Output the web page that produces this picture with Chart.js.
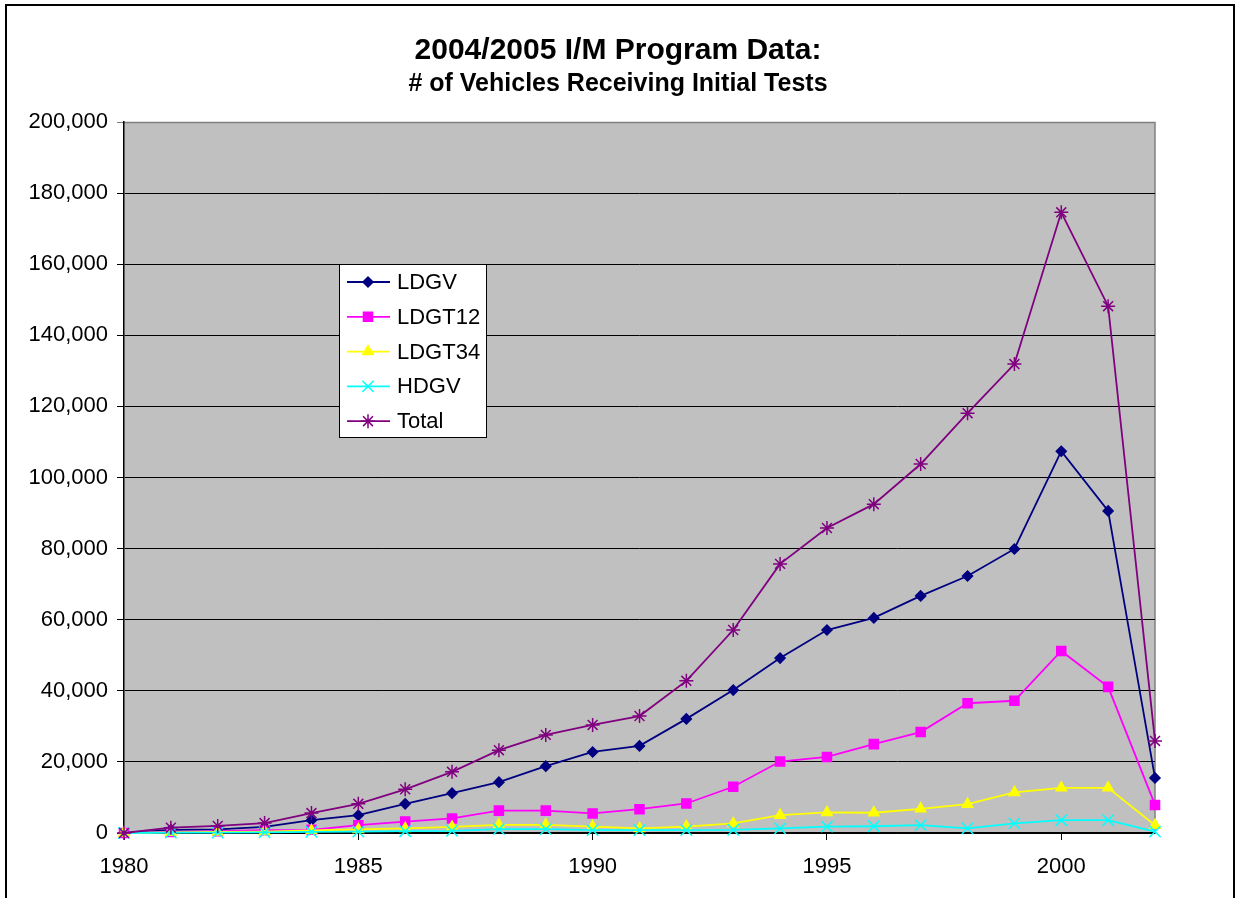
<!DOCTYPE html>
<html>
<head>
<meta charset="utf-8">
<script src="https://cdn.jsdelivr.net/npm/chart.js@4/dist/chart.umd.min.js"></script>
<style>
  body { margin: 0; background: #fff; }
  canvas { display: block; }
</style>
</head>
<body>
<canvas id="chart" width="1236" height="898"></canvas>
<script>
// model years on the x axis
const years = [1980, 1981, 1982, 1983, 1984, 1985, 1986, 1987, 1988, 1989, 1990, 1991,
               1992, 1993, 1994, 1995, 1996, 1997, 1998, 1999, 2000, 2001, 2002];

// vehicles receiving initial tests, per model year
const ldgv   = [0, 900, 1000, 1700, 3600, 5000, 8200, 11200, 14300, 18800, 22800, 24500,
                32100, 40200, 49200, 57100, 60500, 66700, 72300, 79900, 107400, 90600, 15500];
const ldgt12 = [0, 300, 500, 800, 900, 2200, 3200, 4100, 6300, 6300, 5500, 6700,
                8300, 13000, 20100, 21400, 25000, 28400, 36500, 37200, 51200, 41100, 7900];
const ldgt34 = [0, 200, 300, 400, 700, 1000, 1300, 1700, 2300, 2300, 1800, 1300,
                1800, 2700, 5000, 5800, 5700, 6800, 8100, 11400, 12700, 12700, 2200];
const hdgv   = [0, 100, 100, 200, 300, 400, 500, 600, 1100, 1100, 800, 800,
                800, 900, 1300, 1800, 1900, 2200, 1300, 2700, 3600, 3600, 400];
const total  = [0, 1500, 2000, 2800, 5600, 8200, 12300, 17200, 23300, 27600, 30400, 32900,
                42800, 57100, 75700, 85800, 92500, 103800, 118100, 131900, 174600, 148200, 25900];

const seriesNames = ['LDGV', 'LDGT12', 'LDGT34', 'HDGV', 'Total'];
const yTickStep = 20000;
const xTickStep = 5;

const FONT = "'Liberation Sans', Arial, sans-serif";
Chart.defaults.color = '#000';
Chart.defaults.font.family = FONT;

function pts(vals) {
    return years.map((x, i) => ({ x: x, y: vals[i] }));
}

function series(label, vals, color, style, radius, order) {
    return {
        label: label,
        data: pts(vals),
        borderColor: color,
        backgroundColor: color,
        borderWidth: 1.8,
        pointStyle: style,
        pointRadius: radius,
        pointBorderWidth: 1.5,
        pointBorderColor: color,
        pointBackgroundColor: color,
        tension: 0,
        clip: false,
        order: order
    };
}

// white page, outer frame and grey plot area
const frame = {
    id: 'frame',
    beforeDraw(chart) {
        const { ctx, chartArea: a } = chart;
        ctx.save();
        ctx.fillStyle = '#fff';
        ctx.fillRect(0, 0, chart.width, chart.height);
        ctx.strokeStyle = '#000';
        ctx.lineWidth = 2;
        ctx.strokeRect(6, 5, 1228, 1000);
        ctx.fillStyle = '#c0c0c0';
        ctx.fillRect(a.left, a.top, a.right - a.left, a.bottom - a.top);
        ctx.strokeStyle = '#808080';
        ctx.lineWidth = 1.5;
        ctx.beginPath();
        ctx.moveTo(a.left, a.top + 0.5);
        ctx.lineTo(a.right, a.top + 0.5);
        ctx.lineTo(a.right, a.bottom);
        ctx.stroke();
        ctx.restore();
    }
};

// boxed legend sitting inside the plot area
const boxLegend = {
    id: 'boxLegend',
    afterDraw(chart) {
        const { ctx } = chart;
        const x = 339, y = 264, w = 147, h = 173;
        ctx.save();
        ctx.fillStyle = '#fff';
        ctx.fillRect(x, y, w, h);
        ctx.strokeStyle = '#000';
        ctx.lineWidth = 1;
        ctx.strokeRect(x + 0.5, y + 0.5, w, h);
        ctx.font = '22px ' + FONT;
        ctx.textBaseline = 'middle';
        ctx.textAlign = 'left';
        chart.data.datasets.forEach((ds, i) => {
            const cy = 282 + i * 34.8;
            ctx.strokeStyle = ds.borderColor;
            ctx.lineWidth = ds.borderWidth;
            ctx.beginPath();
            ctx.moveTo(347, cy);
            ctx.lineTo(390, cy);
            ctx.stroke();
            ctx.fillStyle = ds.pointBackgroundColor;
            ctx.lineWidth = ds.pointBorderWidth;
            Chart.helpers.drawPoint(ctx, {
                pointStyle: ds.pointStyle,
                radius: ds.pointRadius,
                borderWidth: ds.pointBorderWidth,
                rotation: 0
            }, 368, cy);
            ctx.fillStyle = '#000';
            ctx.fillText(ds.label, 397, cy + 1);
        });
        ctx.restore();
    }
};

new Chart(document.getElementById('chart'), {
    type: 'line',
    data: {
        datasets: [
            series(seriesNames[0], ldgv,   '#000080', 'rectRot',  5,   5),
            series(seriesNames[1], ldgt12, '#ff00ff', 'rect',     6.4, 4),
            series(seriesNames[2], ldgt34, '#ffff00', 'triangle', 6,   3),
            series(seriesNames[3], hdgv,   '#00ffff', 'crossRot', 8,   2),
            series(seriesNames[4], total,  '#800080', 'star',     7,   1)
        ]
    },
    options: {
        responsive: false,
        animation: false,
        layout: { padding: 0 },
        plugins: {
            legend: { display: false },
            tooltip: { enabled: false },
            title: {
                display: true,
                text: '2004/2005 I/M Program Data:',
                font: { size: 30, weight: 'bold' },
                padding: { top: 33, bottom: 0 }
            },
            subtitle: {
                display: true,
                text: '# of Vehicles Receiving Initial Tests',
                font: { size: 25, weight: 'bold' },
                color: '#000',
                padding: { top: 0, bottom: 23 }
            }
        },
        scales: {
            x: {
                type: 'linear',
                min: years[0],
                max: years[years.length - 1],
                afterFit(s) { s.height = 65; },
                afterBuildTicks(s) {
                    s.ticks = s.ticks.filter(t => t.value % xTickStep === 0);
                },
                ticks: {
                    stepSize: xTickStep,
                    autoSkip: false,
                    maxRotation: 0,
                    padding: 14,
                    font: { size: 22 },
                    callback: v => String(v)
                },
                grid: { drawOnChartArea: false, tickLength: 7, color: '#000' },
                border: { color: '#000', width: 1.5 }
            },
            y: {
                min: 0,
                max: 200000,
                afterFit(s) { s.width = 124; },
                ticks: {
                    stepSize: yTickStep,
                    padding: 9,
                    font: { size: 22 },
                    callback: v => v.toLocaleString('en-US')
                },
                grid: {
                    tickLength: 7,
                    color: c => (c.tick && c.tick.value === 200000) ? '#808080' : '#000',
                    lineWidth: 1
                },
                border: { color: '#000', width: 1.5 }
            },
            // empty strip on the right so the plot stops where the original does
            gap: {
                position: 'right',
                afterFit(s) { s.width = 81; },
                ticks: { display: false },
                grid: { display: false },
                border: { display: false }
            }
        }
    },
    plugins: [frame, boxLegend]
});
</script>
</body>
</html>
